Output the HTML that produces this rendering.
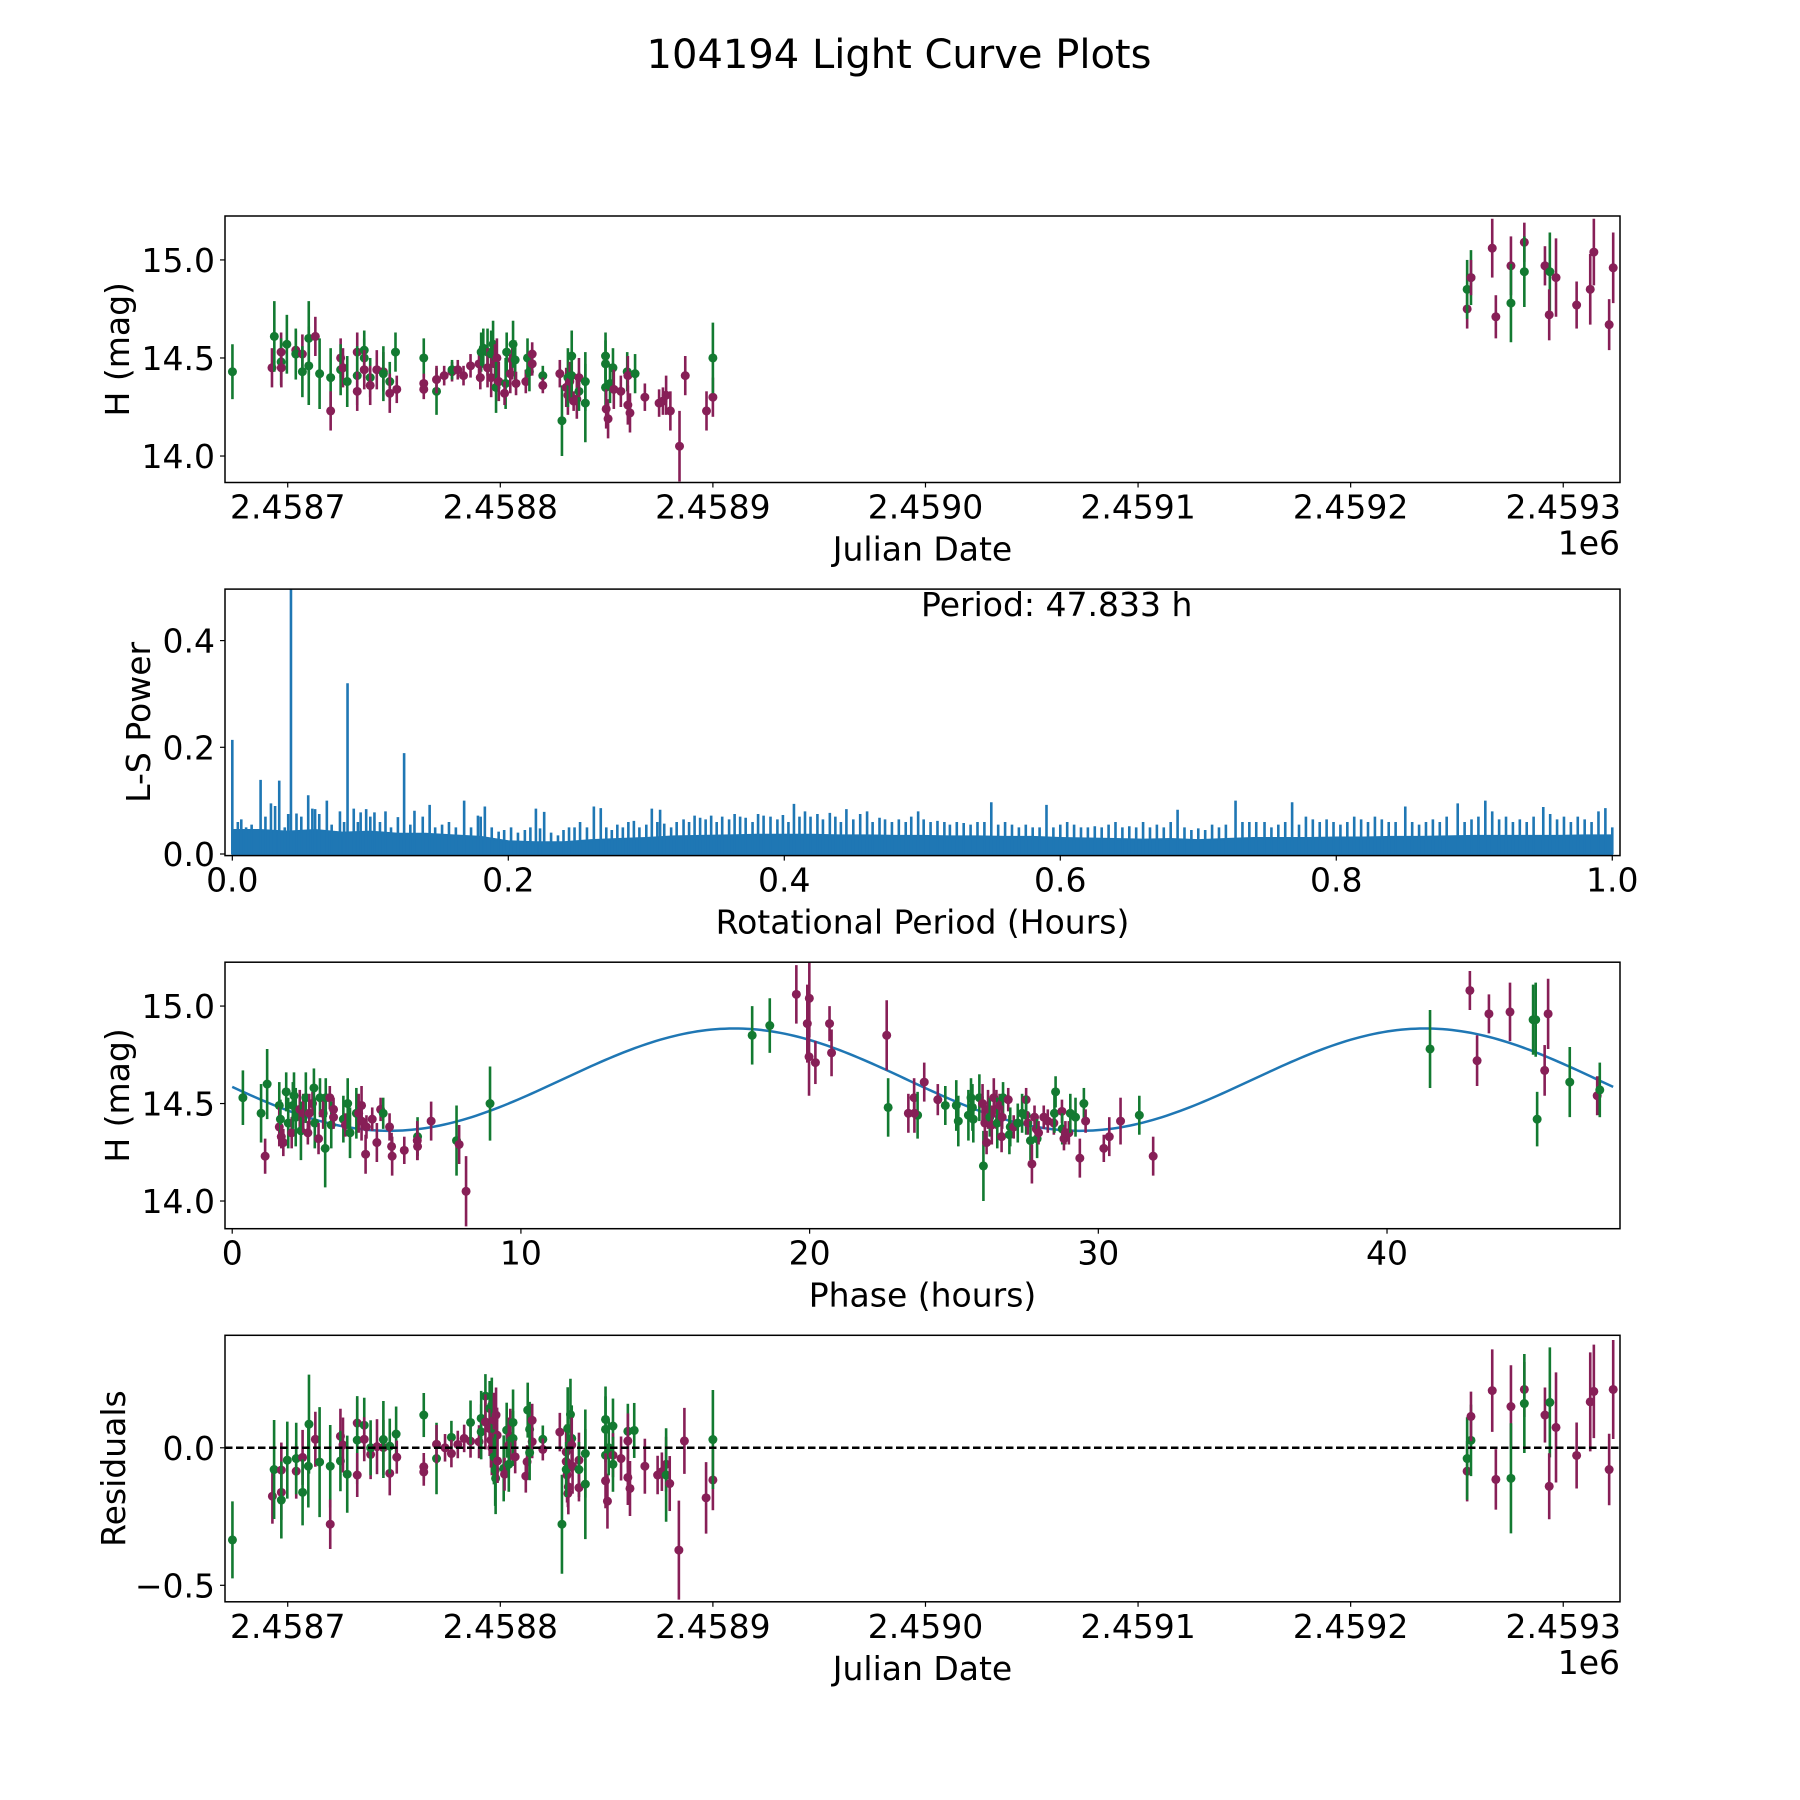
<!DOCTYPE html>
<html><head><meta charset="utf-8"><style>
html,body{margin:0;padding:0;background:#fff;}
svg{display:block;font-family:"DejaVu Sans","Liberation Sans",sans-serif;}
</style></head><body>
<svg id="fig" width="1800" height="1800" viewBox="0 0 1800 1800" xmlns="http://www.w3.org/2000/svg">
<rect width="1800" height="1800" fill="#fff"/>
<text x="899" y="68" font-size="40" text-anchor="middle">104194 Light Curve Plots</text>
<defs>
<clipPath id="c1"><rect x="225" y="216" width="1395" height="266.5"/></clipPath>
<clipPath id="c2"><rect x="225" y="589.1" width="1395" height="266.5"/></clipPath>
<clipPath id="c3"><rect x="225" y="962.2" width="1395" height="266.5"/></clipPath>
<clipPath id="c4"><rect x="225" y="1335.3" width="1395" height="266.5"/></clipPath>
</defs>
<g id="root"></g>
</svg>
<script>
// ---- Panel 1: light curve, offsets in days from JD 2458700 ----
const jdBase = 2458700;
const lcTime = [-26,-7.4,-6.3,-3.1,-3.1,-3,-0.4,3.8,3.8,6.9,6.9,9.9,9.9,13,15,20.2,20.2,24.9,24.9,26,28,32.7,32.7,32.7,36,36,36,38.8,38.8,41.9,45,45,48,48,50.7,51.3,64,64,64,70,70,73.6,77.3,77.3,80,82.7,86,90,91,92,90.6,94,94,95.7,95.7,96.6,97.5,98.4,98,99.3,102.5,102,103,104.7,105.6,106,107,107.4,112,112.8,113.7,115,115,120,120,128,129,131,131.8,131.8,132.7,133.6,133.6,134.5,136,137,137,140,140,149.5,149.5,149.5,149.8,150.7,151.6,153,153.4,156.7,159.7,160,160,161,163.4,168,174.7,176.5,178,180,184.3,187,197,200,200,
554.8,554.8,556.6,556.6,566.6,568.3,575.4,575.4,581.7,581.7,591.4,593.7,593.4,596.6,606.3,612.7,614.4,621.6,623.5];
const lcMag = [14.43,14.45,14.61,14.53,14.48,14.45,14.57,14.54,14.52,14.52,14.43,14.60,14.46,14.61,14.42,14.40,14.23,14.50,14.44,14.45,14.38,14.53,14.41,14.33,14.54,14.50,14.44,14.40,14.36,14.44,14.43,14.42,14.38,14.32,14.53,14.34,14.50,14.37,14.34,14.33,14.39,14.41,14.43,14.44,14.44,14.41,14.46,14.47,14.53,14.55,14.40,14.53,14.45,14.52,14.40,14.57,14.47,14.50,14.35,14.38,14.37,14.32,14.53,14.42,14.49,14.57,14.49,14.37,14.38,14.50,14.43,14.52,14.47,14.41,14.36,14.42,14.18,14.35,14.31,14.40,14.38,14.51,14.41,14.28,14.29,14.33,14.40,14.38,14.27,14.51,14.47,14.35,14.24,14.19,14.37,14.45,14.34,14.33,14.43,14.41,14.26,14.22,14.42,14.30,14.27,14.28,14.31,14.23,14.05,14.41,14.23,14.30,14.50,
14.75,14.85,14.91,14.91,15.06,14.71,14.97,14.78,15.09,14.94,14.97,14.94,14.72,14.91,14.77,14.85,15.04,14.67,14.96];
const lcErr = [.14,.10,.18,.1,.12,.1,.15,.1,.13,.1,.13,.19,.2,.1,.18,.15,.1,.1,.13,.1,.13,.1,.15,.1,.1,.1,.1,.1,.1,.1,.1,.14,.1,.1,.1,.07,.1,.05,.05,.12,.07,.05,.05,.05,.05,.05,.06,.06,.1,.1,.06,.12,.1,.12,.1,.12,.1,.1,.13,.1,.13,.06,.1,.1,.1,.12,.1,.06,.06,.1,.1,.06,.06,.05,.04,.07,.18,.1,.1,.15,.1,.13,.12,.05,.1,.1,.1,.15,.2,.12,.12,.1,.1,.1,.1,.1,.1,.08,.1,.1,.1,.1,.1,.07,.07,.07,.1,.1,.18,.1,.1,.1,.18,
.10,.15,.14,.09,.15,.11,.15,.2,.1,.18,.1,.2,.13,.2,.12,.18,.17,.13,.18];
const lcBand = "gmgmgmgmgm"+"gggmggmmgm"+"gmgmggmgmm"+"mggmgmgmmg"+"mmmgmmmmgg"+"mgmgmgmmgm"+"gmgmmggmmg"+"gmmgmmgmmg"+"mggmmgmggg"+"ggmmggmmgm"+"mmgmmmmmmm"+"mmg"+"mggmmmmgmgmgmmmmmmm";

// ---- Panel 2: Lomb-Scargle periodogram ----
const lsBasePeriod = [0,.02,.04,.06,.08,.10,.12,.14,.16,.18,.20,.22,.24,.26,.28,.30,.32,.34,.36,.38,.40,.42,.44,.46,.48,.50,.52,.54,.56,.58,.60,.62,.64,.66,.68,.70,.72,.74,.76,.78,.80,.82,.84,.86,.88,.90,.92,.94,.96,.98,1.0];
const lsBasePower = [.045,.045,.042,.045,.04,.042,.038,.038,.035,.032,.024,.022,.022,.026,.028,.03,.033,.034,.035,.036,.036,.036,.035,.035,.034,.034,.033,.033,.032,.032,.03,.029,.028,.027,.028,.026,.028,.03,.03,.03,.031,.031,.032,.032,.033,.034,.034,.034,.034,.035,.035];
const lsPeakPeriod = [0,.004,.0065,.010,.014,.0205,.024,.028,.031,.034,.038,.0405,.0425,.0465,.050,.055,.058,.060,.063,.0685,.072,.078,.081,.0835,.088,.091,.093,.097,.100,.103,.107,.111,.115,.120,.1245,.129,.132,.138,.143,.147,.152,.157,.162,.168,.173,.178,.180,.183,.188,.193,.197,.202,.207,.212,.216,.220,.223,.226,.231,.236,.240,.244,.248,.252,.257,.262,.267,.271,.275,.279,.283,.287,.291,.295,.300,.304,.308,.310,.313,.318,.322,.327,.331,.335,.339,.343,.347,.351,.355,.360,.364,.368,.372,.377,.381,.385,.390,.395,.399,.403,.407,.411,.415,.419,.424,.428,.433,.437,.441,.445,.450,.455,.460,.464,.469,.473,.478,.483,.488,.492,.497,.501,.506,.511,.516,.520,.525,.530,.535,.540,.545,.550,.555,.560,.565,.570,.575,.580,.585,.590,.595,.600,.605,.610,.615,.620,.625,.630,.635,.640,.645,.650,.655,.660,.665,.670,.675,.680,.685,.690,.695,.700,.705,.710,.715,.720,.727,.732,.737,.742,.748,.753,.758,.763,.768,.773,.778,.783,.788,.793,.798,.803,.808,.813,.818,.823,.828,.833,.838,.843,.850,.855,.860,.865,.870,.875,.880,.888,.893,.898,.903,.908,.913,.918,.923,.928,.933,.938,.943,.950,.955,.960,.965,.970,.975,.980,.985,.990,.995,1.0];
const lsPeakPower = [.214,.06,.065,.05,.055,.139,.07,.095,.09,.1375,.05,.075,.50,.076,.07,.11,.085,.084,.075,.10,.055,.08,.06,.32,.085,.06,.078,.084,.07,.078,.06,.08,.05,.069,.189,.055,.081,.07,.092,.05,.055,.06,.05,.10,.05,.072,.07,.089,.05,.042,.045,.05,.04,.045,.05,.085,.048,.079,.04,.035,.045,.05,.05,.06,.05,.089,.086,.05,.045,.055,.05,.06,.062,.05,.055,.085,.06,.083,.057,.05,.06,.065,.06,.072,.068,.065,.072,.06,.07,.065,.075,.07,.068,.06,.075,.072,.07,.065,.073,.06,.094,.07,.08,.07,.075,.065,.077,.07,.06,.084,.065,.075,.08,.06,.068,.065,.06,.065,.06,.07,.08,.065,.06,.062,.06,.055,.06,.058,.055,.06,.06,.097,.055,.06,.055,.05,.055,.05,.05,.092,.05,.055,.06,.055,.05,.05,.052,.05,.055,.06,.05,.052,.05,.06,.05,.055,.05,.06,.083,.05,.045,.048,.045,.055,.05,.055,.10,.06,.06,.06,.06,.05,.055,.06,.097,.055,.07,.065,.06,.065,.06,.055,.06,.07,.065,.06,.07,.065,.06,.06,.089,.06,.055,.06,.065,.06,.07,.095,.06,.065,.07,.10,.08,.065,.07,.06,.065,.06,.07,.088,.075,.065,.07,.06,.07,.065,.06,.08,.086,.05];
const periodText = "Period: 47.833 h";

// ---- Panel 3: phase-folded curve (hours) ----
const phHours = [0.37,1.0,1.14,1.21,1.63,1.63,1.67,1.7,1.77,1.87,1.94,2.06,2.14,2.1,2.2,2.34,2.38,2.46,2.55,2.62,2.67,2.78,2.83,2.86,2.99,3.04,3.15,3.22,3.24,3.38,3.43,3.51,3.51,3.85,3.92,4.0,4.08,4.3,4.38,4.48,4.48,4.62,4.65,4.85,5.01,5.14,5.23,5.45,5.52,5.54,5.96,6.42,6.41,6.42,6.89,7.77,7.86,8.1,8.93,
18.01,18.62,19.54,19.92,19.99,19.98,20.2,20.69,20.76,22.67,22.72,23.42,23.62,23.74,23.63,23.97,24.44,24.7,25.08,25.15,25.5,25.59,25.64,25.67,25.88,25.99,26.02,26.07,26.13,26.18,26.24,26.31,26.38,26.47,26.5,26.58,26.65,26.7,26.67,26.88,26.92,26.95,27.07,27.21,27.36,27.5,27.5,27.56,27.65,27.7,27.79,27.85,27.88,27.93,28.11,28.25,28.46,28.48,28.52,28.74,28.75,28.81,28.86,28.98,29.03,29.21,29.5,29.56,29.36,30.19,30.38,30.77,31.42,31.9,
41.49,42.87,43.12,43.53,44.26,45.06,45.15,45.2,45.46,45.58,46.33,47.28,47.37];
const phMag = [14.53,14.45,14.23,14.60,14.49,14.38,14.42,14.33,14.30,14.56,14.40,14.35,14.54,14.49,14.43,14.47,14.36,14.45,14.53,14.35,14.45,14.50,14.58,14.40,14.32,14.53,14.45,14.27,14.53,14.53,14.39,14.47,14.43,14.42,14.39,14.50,14.35,14.45,14.45,14.49,14.41,14.24,14.38,14.42,14.30,14.47,14.45,14.38,14.28,14.23,14.26,14.33,14.31,14.28,14.41,14.31,14.29,14.05,14.50,
14.85,14.90,15.06,14.91,15.04,14.74,14.71,14.91,14.76,14.85,14.48,14.45,14.53,14.44,14.45,14.61,14.52,14.49,14.49,14.41,14.44,14.53,14.48,14.42,14.53,14.50,14.18,14.40,14.30,14.47,14.43,14.39,14.53,14.47,14.40,14.49,14.33,14.53,14.43,14.52,14.34,14.38,14.38,14.40,14.45,14.52,14.44,14.40,14.31,14.19,14.43,14.37,14.32,14.35,14.43,14.41,14.40,14.45,14.56,14.46,14.37,14.32,14.35,14.35,14.45,14.43,14.50,14.41,14.22,14.27,14.33,14.41,14.44,14.23,
14.78,15.08,14.72,14.96,14.97,14.93,14.93,14.42,14.67,14.96,14.61,14.54,14.57];
const phErr = [.14,.15,.09,.18,.12,.1,.1,.06,.07,.1,.13,.08,.12,.12,.15,.1,.15,.1,.13,.06,.1,.06,.1,.13,.08,.1,.08,.2,.1,.06,.12,.06,.06,.12,.06,.13,.13,.13,.1,.1,.1,.1,.06,.06,.1,.06,.08,.07,.07,.1,.07,.1,.1,.07,.1,.18,.1,.18,.19,
.15,.14,.15,.2,.2,.2,.11,.09,.12,.18,.15,.1,.1,.12,.1,.1,.08,.1,.13,.13,.13,.1,.12,.12,.12,.1,.18,.1,.06,.1,.1,.1,.1,.1,.13,.06,.08,.08,.06,.06,.1,.1,.06,.1,.1,.06,.1,.06,.1,.1,.06,.06,.1,.06,.06,.06,.06,.1,.08,.06,.08,.06,.06,.06,.1,.1,.08,.06,.1,.07,.1,.12,.1,.1,
.2,.1,.13,.1,.15,.18,.19,.14,.13,.18,.18,.1,.14];
const phBand = "ggmggmgmmg"+"gmgggmgmgm"+"mmggmgmggm"+"gmmgmgggmm"+"mmmmmmgmmm"+"mgmmmgmmg"+
"ggmmmmmmmm"+"gmmgmmmggg"+"gggggmgmmm"+"gmmmgmmgmm"+"ggmggmgmgm"+"mmgmmmmggm"+"gmmmgggmmm"+"mmgm"+
"gmmmmgggmmgmg";
const modelMean = 14.6225, modelAmp = 0.2625, modelPeak = 17.4, modelPeriod = 23.9167, modelEnd = 47.833;

// ---- Panel 4: residuals ----
const resTime = [-26,-7.2,-6.4,-3,-3,-3,-0.2,4,4,7,7,10,9.7,13,15,20,20,24.8,24.8,26,28,32.7,32.7,32.7,36,36,39,39,42,45,45,48,48,51,51.3,64,64,64,70,70,74,77,77,80,83,86,86,90,91,91,93,93,95,95,95.6,96,96,97,97,98,98.5,97.6,97.8,98.7,101.6,102,103,104,104.7,106,106,107,104,112.9,113.8,112.6,112,115,115,113.8,120,120,128,129,131,131,131.7,131.4,133,133.6,133.6,132,131.8,131,134,137,137,137,140,140,149.5,149.5,149.5,149.5,150.4,151,153,153,153,156.8,160,160,160,161,163,168,174,176,178,178,179.7,184,186.6,196.8,200,200,
554.8,554.8,556.6,556.6,566.6,568.3,575.4,575.4,581.7,581.7,591.4,593.7,593.4,596.6,606.3,612.7,614.4,621.6,623.5];
const resVal = [-.335,-.176,-.079,-.081,-.162,-.19,-.045,-.085,-.039,-.035,-.162,.086,-.067,.031,-.052,-.067,-.278,.042,-.048,.01,-.096,.09,.028,-.099,.082,.031,-.024,0,.004,.001,.03,-.093,.006,.05,-.034,.119,-.069,-.088,-.039,.013,0,.038,-.021,.012,.034,.024,.092,.022,.107,.058,.188,.094,.143,.07,.028,0,.155,.1,-.033,.119,.046,-.081,-.111,-.048,-.075,-.096,.064,.01,.042,.092,.034,-.033,-.06,.137,.067,-.051,-.103,.1,.022,-.018,.031,-.006,.057,-.278,-.015,-.05,.07,-.099,.121,.034,.01,-.142,-.166,-.079,-.067,-.045,-.079,-.145,-.021,-.132,.103,.067,-.027,-.12,-.194,0,.079,-.027,-.06,-.039,.06,.025,-.108,-.148,.063,-.067,-.099,-.087,-.06,-.099,-.13,-.372,.025,-.182,-.117,.03,
-.085,-.039,.027,.114,.208,-.115,.15,-.111,.212,.161,.119,.165,-.14,.074,-.028,.167,.205,-.079,.212];
const resErr = [.14,.1,.18,.1,.1,.14,.14,.1,.13,.1,.12,.18,.15,.1,.2,.15,.09,.1,.11,.1,.14,.09,.16,.08,.1,.08,.09,.1,.1,.1,.14,.08,.1,.1,.06,.08,.05,.05,.13,.07,.05,.06,.05,.05,.05,.06,.08,.06,.1,.1,.08,.1,.1,.1,.1,.1,.1,.1,.1,.1,.1,.13,.13,.08,.12,.06,.1,.1,.1,.12,.1,.06,.1,.1,.1,.06,.06,.06,.06,.1,.05,.04,.07,.18,.1,.1,.15,.1,.13,.12,.1,.1,.05,.1,.1,.1,.1,.05,.16,.2,.12,.12,.1,.1,.1,.1,.1,.08,.1,.08,.1,.1,.1,.1,.1,.1,.07,.07,.1,.17,.1,.18,.12,.13,.11,.18,
.11,.15,.13,.09,.15,.11,.15,.2,.1,.18,.1,.2,.12,.2,.12,.18,.17,.13,.18];
const resBand = "gmgmmggmgm"+"gggmggmmgm"+"gmgmgmmgmm"+"gmggmgmmgm"+"mgmmmmgmgg"+"gmgmmmgmgm"+"mggmgmgmmg"+"gmgggmmmmg"+"gmmgmmgmgg"+"mmmgmmgmgg"+"gggmmggmgm"+"gmmmgmmmmg"+"mmmmmg"+"mggmmmmgmgmgmmmmmmm";

// ---- tick definitions ----
const jdTicks = [2458700,2458800,2458900,2459000,2459100,2459200,2459300];
const jdTickLabels = ["2.4587","2.4588","2.4589","2.4590","2.4591","2.4592","2.4593"];
const magTicks = [14.0,14.5,15.0];
const magTickLabels = ["14.0","14.5","15.0"];
const lsXTicks = [0,0.2,0.4,0.6,0.8,1.0];
const lsXTickLabels = ["0.0","0.2","0.4","0.6","0.8","1.0"];
const lsYTicks = [0,0.2,0.4];
const lsYTickLabels = ["0.0","0.2","0.4"];
const phTicks = [0,10,20,30,40];
const phTickLabels = ["0","10","20","30","40"];
const resTicks = [-0.5,0.0];
const resTickLabels = ["\u22120.5","0.0"];

const NS = "http://www.w3.org/2000/svg";
const root = document.getElementById('root');
const COL = {m:"#871f57", g:"#137a31"};
function mk(tag, attrs, parent){ const e=document.createElementNS(NS,tag); for(const k in attrs) e.setAttribute(k,attrs[k]); (parent||root).appendChild(e); return e; }
function lin(d0,d1,r0,r1){ return v => r0+(v-d0)/(d1-d0)*(r1-r0); }

const L=225, R=1620, H=266.5;
const tops=[216,589.1,962.2,1335.3];
const xJD = lin(2458670.5-jdBase, 2459326.7-jdBase, L, R);
const y1 = lin(13.865,15.224,tops[0]+H,tops[0]);
const x2 = lin(-0.0053,1.0056,L,R);
const y2 = lin(-0.003,0.4965,tops[1]+H,tops[1]);
const x3 = lin(-0.25,48.07,L,R);
const y3 = lin(13.858,15.225,tops[2]+H,tops[2]);
const y4 = lin(-0.56,0.409,tops[3]+H,tops[3]);

function axes(i,name,xt,xl,xs,yt,yl,ys,xlabel,ylabel,ylabelX,offsetText){
  const top=tops[i], bot=top+H;
  const g=mk('g',{});
  
  
  xt.forEach((t,k)=>{ const x=xs(t);
    const tk=mk('line',{x1:x,x2:x,y1:bot,y2:bot+5,stroke:'#000','stroke-width':1.2},g);
    
    
    const tx=mk('text',{x:x,y:bot+36,'font-size':33,'text-anchor':'middle'},g); tx.textContent=xl[k];
    
    
  });
  yt.forEach((t,k)=>{ const y=ys(t);
    const tk=mk('line',{x1:L-5,x2:L,y1:y,y2:y,stroke:'#000','stroke-width':1.2},g);
    
    
    const tx=mk('text',{x:L-10,y:y+12,'font-size':33,'text-anchor':'end'},g); tx.textContent=yl[k];
    
    
  });
  const xlab=mk('text',{x:(L+R)/2,y:bot+78,'font-size':33,'text-anchor':'middle'},g); xlab.textContent=xlabel;
  
  
  const ylab=mk('text',{x:0,y:0,'font-size':33,'text-anchor':'middle',transform:`translate(${ylabelX+12},${top+H/2}) rotate(-90)`},g); ylab.textContent=ylabel;
  
  
  if(offsetText){ const o=mk('text',{x:R,y:bot+72,'font-size':33,'text-anchor':'end'},g); o.textContent=offsetText;
    
     }
}
function frame(i){ const f=mk('rect',{x:L,y:tops[i],width:R-L,height:H,fill:'none',stroke:'#000','stroke-width':1.5});
  
   }

function errpts(i, xs, ys, X, Y, E, B){
  const g=mk('g',{'clip-path':`url(#c${i+1})`});
  
  
  for(let k=0;k<X.length;k++){
    const c=COL[B[k]]||COL.m, x=xs(X[k]);
    const l=mk('line',{x1:x,x2:x,y1:ys(Y[k]-E[k]),y2:ys(Y[k]+E[k]),stroke:c,'stroke-width':2.6},g);
    
    
    const p=mk('circle',{cx:x,cy:ys(Y[k]),r:4.5,fill:c},g);
    
    
  }
}

// Panel 1
errpts(0, xJD, y1, lcTime, lcMag, lcErr, lcBand);
frame(0);
axes(0,'light-curve',jdTicks.map(t=>t-jdBase),jdTickLabels,xJD,magTicks,magTickLabels,y1,'Julian Date','H (mag)',117,'1e6');

// Panel 2
{
  const g=mk('g',{'clip-path':'url(#c2)'});
  
  
  let d=`M${x2(lsBasePeriod[0])},${y2(0)}`;
  lsBasePeriod.forEach((p,k)=>{ d+=` L${x2(p)},${y2(lsBasePower[k])}`; });
  d+=` L${x2(lsBasePeriod[lsBasePeriod.length-1])},${y2(0)} Z`;
  const base=mk('path',{d:d,fill:'#1f77b4',stroke:'#1f77b4','stroke-width':2},g);
  
  
  lsPeakPeriod.forEach((p,k)=>{
    const s=mk('line',{x1:x2(p),x2:x2(p),y1:y2(0),y2:y2(lsPeakPower[k]),stroke:'#1f77b4','stroke-width':2.6},g);
    
    
  });
}
frame(1);
axes(1,'periodogram',lsXTicks,lsXTickLabels,x2,lsYTicks,lsYTickLabels,y2,'Rotational Period (Hours)','L-S Power',138,null);
{ const t=mk('text',{x:921,y:616,'font-size':33}); t.textContent=periodText;
  
   }

// Panel 3
{
  const g=mk('g',{'clip-path':'url(#c3)'});
  
  
  let d='';
  for(let k=0;k<=300;k++){ const p=modelEnd*k/300;
    const m=modelMean+modelAmp*Math.cos(2*Math.PI*(p-modelPeak)/modelPeriod);
    d+=(k?' L':'M')+x3(p).toFixed(2)+','+y3(m).toFixed(2); }
  const pl=mk('path',{d:d,fill:'none',stroke:'#1f77b4','stroke-width':2.5},g);
  
  
}
errpts(2, x3, y3, phHours, phMag, phErr, phBand);
frame(2);
axes(2,'phase-fold',phTicks,phTickLabels,x3,magTicks,magTickLabels,y3,'Phase (hours)','H (mag)',117,null);

// Panel 4
errpts(3, xJD, y4, resTime, resVal, resErr, resBand);
{ const z=mk('line',{x1:L,x2:R,y1:y4(0),y2:y4(0),stroke:'#000','stroke-width':2.5,'stroke-dasharray':'7.5 3.5'});
  
   }
frame(3);
axes(3,'residuals',jdTicks.map(t=>t-jdBase),jdTickLabels,xJD,resTicks,resTickLabels,y4,'Julian Date','Residuals',113,'1e6');
</script>
</body></html>
